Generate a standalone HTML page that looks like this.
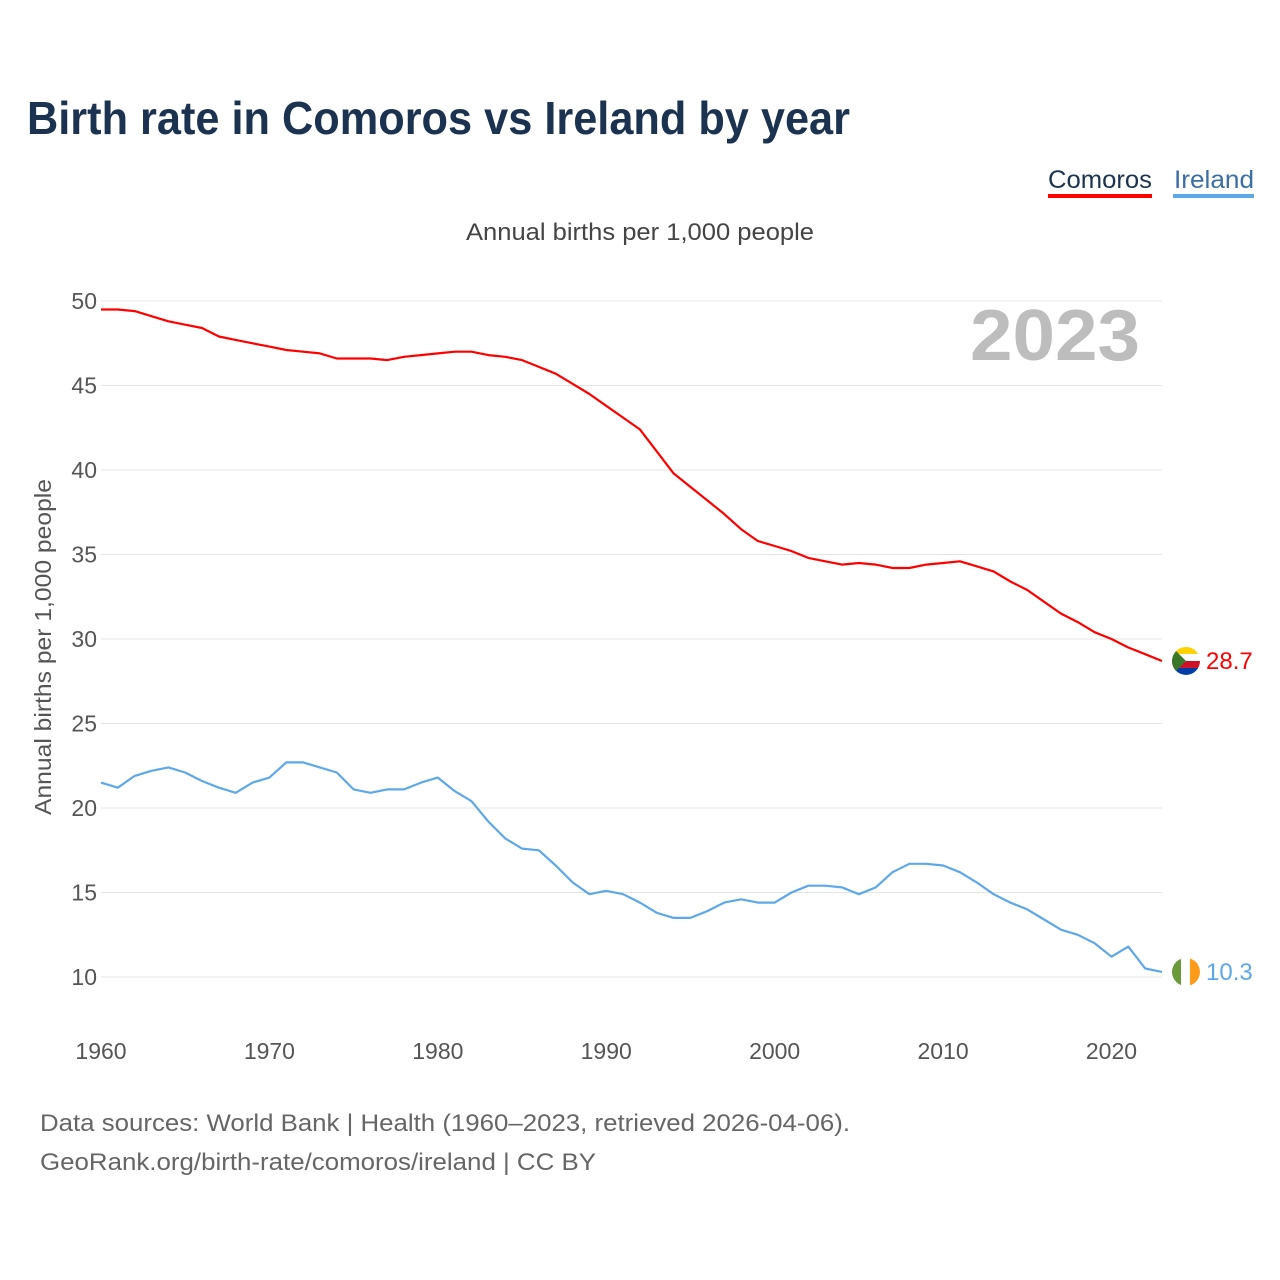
<!DOCTYPE html>
<html><head><meta charset="utf-8">
<style>
body{margin:0;background:#fff;font-family:"Liberation Sans",sans-serif;}
#wrap{position:relative;width:1280px;height:1280px;overflow:hidden;}
</style></head>
<body>
<div id="wrap">
<svg id="chart" width="1280" height="1280"></svg>
</div>
<script>
const years=[];for(let y=1960;y<=2023;y++)years.push(y);
const comoros=[49.5,49.5,49.4,49.1,48.8,48.6,48.4,47.9,47.7,47.5,47.3,47.1,47.0,46.9,46.6,46.6,46.6,46.5,46.7,46.8,46.9,47.0,47.0,46.8,46.7,46.5,46.1,45.7,45.1,44.5,43.8,43.1,42.4,41.1,39.8,39.0,38.2,37.4,36.5,35.8,35.5,35.2,34.8,34.6,34.4,34.5,34.4,34.2,34.2,34.4,34.5,34.6,34.3,34.0,33.4,32.9,32.2,31.5,31.0,30.4,30.0,29.5,29.1,28.7];
const ireland=[21.5,21.2,21.9,22.2,22.4,22.1,21.6,21.2,20.9,21.5,21.8,22.7,22.7,22.4,22.1,21.1,20.9,21.1,21.1,21.5,21.8,21.0,20.4,19.2,18.2,17.6,17.5,16.6,15.6,14.9,15.1,14.9,14.4,13.8,13.5,13.5,13.9,14.4,14.6,14.4,14.4,15.0,15.4,15.4,15.3,14.9,15.3,16.2,16.7,16.7,16.6,16.2,15.6,14.9,14.4,14.0,13.4,12.8,12.5,12.0,11.2,11.8,10.5,10.3];
const yTicks=[10,15,20,25,30,35,40,45,50];
const xTicks=[1960,1970,1980,1990,2000,2010,2020];

const NS="http://www.w3.org/2000/svg";
const svg=document.getElementById('chart');
const X=y=>101+(y-1960)*(1162-101)/63;
const Y=v=>977-(v-10)*(977-301)/40;
function el(tag,attrs,parent){const e=document.createElementNS(NS,tag);for(const k in attrs)e.setAttribute(k,attrs[k]);(parent||svg).appendChild(e);return e;}
function txt(s,attrs){const e=el('text',attrs);e.textContent=s;return e;}
const LA='spacingAndGlyphs';

let t;
t=txt('Birth rate in Comoros vs Ireland by year',{x:27,y:134,'font-size':46,'font-weight':'bold',fill:'#1b3350',textLength:823,lengthAdjust:LA});


t=txt('Annual births per 1,000 people',{x:466,y:240,'font-size':24,fill:'#444',textLength:348,lengthAdjust:LA});



// legend
t=txt('Comoros',{x:1048,y:188,'font-size':25,fill:'#1b3350',textLength:104,lengthAdjust:LA});


let r=el('rect',{x:1048,y:194,width:104,height:4,fill:'#ff0000'});


t=txt('Ireland',{x:1174,y:188,'font-size':25,fill:'#3a6ea5',textLength:80,lengthAdjust:LA});


r=el('rect',{x:1173,y:194,width:81,height:4,fill:'#5ea8ea'});



// grid + y ticks
yTicks.forEach(v=>{
  const l=el('line',{x1:101,x2:1162,y1:Y(v),y2:Y(v),stroke:'#e4e4e4','stroke-width':1});
  
  
  const tt=txt(String(v),{x:97,y:Y(v)+8,'font-size':23,fill:'#555','text-anchor':'end'});
  
  
});
xTicks.forEach(v=>{
  const tt=txt(String(v),{x:X(v),y:1059,'font-size':23,fill:'#555','text-anchor':'middle'});
  
  
});
t=txt('Annual births per 1,000 people',{x:0,y:0,'font-size':23,fill:'#555','text-anchor':'middle',textLength:336,lengthAdjust:LA,transform:'translate(51,647) rotate(-90)'});



t=txt('2023',{x:1140,y:360,'font-size':72,'font-weight':'bold',fill:'#bdbdbd','text-anchor':'end',textLength:170,lengthAdjust:LA});



function line(data,color,name){
  const d=data.map((v,i)=>(i?'L':'M')+X(years[i]).toFixed(1)+','+Y(v).toFixed(1)).join(' ');
  const p=el('path',{d:d,fill:'none',stroke:color,'stroke-width':2.2,'stroke-linejoin':'round'});
  
  
}
line(comoros,'#ff0000','comoros-line');
line(ireland,'#5ea8ea','ireland-line');

// end markers
const cy=Y(comoros[comoros.length-1]), iy=Y(ireland[ireland.length-1]);
let g=el('g',{});


el('clipPath',{id:'cc'},g);
el('circle',{cx:1186,cy:cy,r:14},g.lastChild);
const gc=el('g',{'clip-path':'url(#cc)'},g);
el('rect',{x:1172,y:cy-14,width:28,height:7,fill:'#ffd100'},gc);
el('rect',{x:1172,y:cy-7,width:28,height:7,fill:'#fff'},gc);
el('rect',{x:1172,y:cy,width:28,height:7,fill:'#ce1126'},gc);
el('rect',{x:1172,y:cy+7,width:28,height:7,fill:'#003da5'},gc);
el('polygon',{points:`1172,${cy-14} 1186,${cy} 1172,${cy+14}`,fill:'#3a7728'},gc);
t=txt('28.7',{x:1206,y:cy+8,'font-size':24,fill:'#ff0000'});



g=el('g',{});


el('clipPath',{id:'ci'},g);
el('circle',{cx:1186,cy:iy,r:14},g.lastChild);
const gi=el('g',{'clip-path':'url(#ci)'},g);
el('rect',{x:1172,y:iy-14,width:10,height:28,fill:'#6a9a3a'},gi);
el('rect',{x:1181,y:iy-14,width:10,height:28,fill:'#fff'},gi);
el('rect',{x:1190,y:iy-14,width:10,height:28,fill:'#ff9a1a'},gi);
t=txt('10.3',{x:1206,y:iy+8,'font-size':24,fill:'#5ea8ea'});



t=txt('Data sources: World Bank | Health (1960–2023, retrieved 2026-04-06).',{x:40,y:1131,'font-size':24,fill:'#666',textLength:810,lengthAdjust:LA});


t=txt('GeoRank.org/birth-rate/comoros/ireland | CC BY',{x:40,y:1170,'font-size':24,fill:'#666',textLength:556,lengthAdjust:LA});


</script>
</body></html>
